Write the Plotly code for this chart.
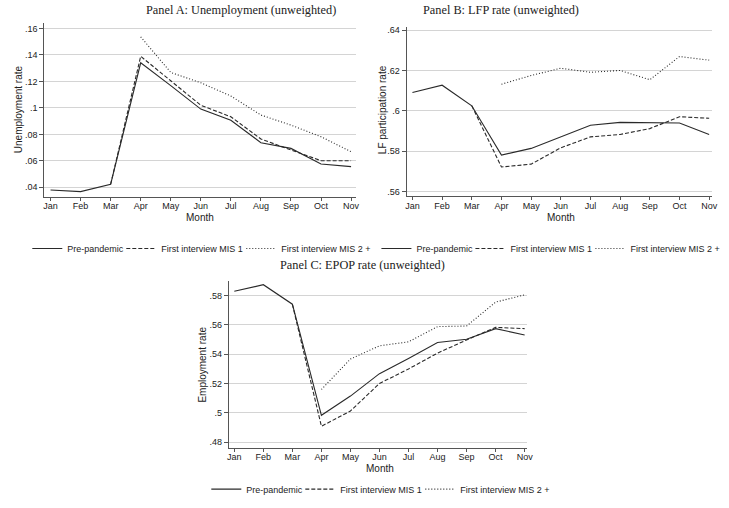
import plotly.graph_objects as go

months = ["Jan", "Feb", "Mar", "Apr", "May", "Jun", "Jul", "Aug", "Sep", "Oct", "Nov"]
series_names = ["Pre-pandemic", "First interview MIS 1", "First interview MIS 2 +"]

# Panel A: Unemployment rate
pre_a = [0.0380, 0.0367, 0.0423, 0.1341, 0.1168, 0.0991, 0.0906, 0.0737, 0.0694, 0.0576, 0.0556]
mis1_a = [None, None, 0.0423, 0.1390, 0.1205, 0.1020, 0.0933, 0.0765, 0.0682, 0.0601, 0.0601]
mis2_a = [None, None, None, 0.1537, 0.1268, 0.1190, 0.1090, 0.0946, 0.0870, 0.0782, 0.0669]

# Panel B: LFP rate
pre_b = [0.6091, 0.6127, 0.6025, 0.5781, 0.5814, 0.5871, 0.5929, 0.5943, 0.5940, 0.5940, 0.5883]
mis1_b = [None, None, 0.6025, 0.5722, 0.5736, 0.5817, 0.5871, 0.5883, 0.5912, 0.5971, 0.5963]
mis2_b = [None, None, None, 0.6132, 0.6175, 0.6211, 0.6191, 0.6200, 0.6154, 0.6269, 0.6251]

# Panel C: EPOP rate
pre_c = [0.5829, 0.5874, 0.5741, 0.4983, 0.5114, 0.5267, 0.5371, 0.5480, 0.5502, 0.5574, 0.5531]
mis1_c = [None, None, 0.5740, 0.4908, 0.5012, 0.5200, 0.5299, 0.5407, 0.5497, 0.5583, 0.5574]
mis2_c = [None, None, None, 0.5159, 0.5367, 0.5457, 0.5484, 0.5588, 0.5592, 0.5755, 0.5805]

ticks_a = [0.04, 0.06, 0.08, 0.10, 0.12, 0.14, 0.16]
ticktext_a = [".04", ".06", ".08", ".1", ".12", ".14", ".16"]
ticks_b = [0.56, 0.58, 0.60, 0.62, 0.64]
ticktext_b = [".56", ".58", ".6", ".62", ".64"]
ticks_c = [0.48, 0.50, 0.52, 0.54, 0.56, 0.58]
ticktext_c = [".48", ".5", ".52", ".54", ".56", ".58"]

W, H = 729, 508
LINE = "#2a2a2a"
SANS = "Liberation Sans, Arial, sans-serif"
SERIF = "Liberation Serif, Times New Roman, serif"

dashes = ["solid", "4px,2px", "1px,2px"]
legend_widths = [49, 75, 88]

fig = go.Figure()

panels = [
    ("x", "y", "legend", [pre_a, mis1_a, mis2_a]),
    ("x2", "y2", "legend2", [pre_b, mis1_b, mis2_b]),
    ("x3", "y3", "legend3", [pre_c, mis1_c, mis2_c]),
]
for xa, ya, lg, data in panels:
    for name, vals, dash, lw in zip(series_names, data, dashes, legend_widths):
        fig.add_trace(go.Scatter(
            x=months, y=vals, mode="lines", name=name,
            line=dict(color=LINE, width=1.1, dash=dash),
            xaxis=xa, yaxis=ya, legend=lg, showlegend=True, legendwidth=lw,
            connectgaps=False, hoverinfo="skip"))

def px_x(p):
    return p / W

def px_y(p):
    return 1 - p / H

xaxis_common = dict(
    type="category", categoryorder="array", categoryarray=months,
    showgrid=False, zeroline=False, showline=True, linecolor="#555555", linewidth=1,
    ticks="outside", ticklen=3, tickcolor="#555555", tickwidth=1, ticklabelstandoff=-2,
    tickfont=dict(family=SANS, size=9, color="#222222"), fixedrange=True,
)
yaxis_common = dict(
    showgrid=True, gridcolor="#d4d4d4", gridwidth=1, zeroline=False,
    showline=True, linecolor="#555555", linewidth=1,
    ticks="outside", ticklen=4, tickcolor="#555555", tickwidth=1,
    tickfont=dict(family=SANS, size=9, color="#222222"), fixedrange=True,
)

layout_axes = dict(
    xaxis=dict(**xaxis_common, domain=[px_x(42.7), px_x(357.5)], range=[-0.21, 10.15], anchor="y"),
    yaxis=dict(**yaxis_common, domain=[px_y(195.7), px_y(20.7)], range=[0.0330, 0.1645],
               tickvals=ticks_a, ticktext=ticktext_a, anchor="x"),
    xaxis2=dict(**xaxis_common, domain=[px_x(409), px_x(718)], range=[-0.2, 10.1], anchor="y2"),
    yaxis2=dict(**yaxis_common, domain=[px_y(195), px_y(25)], range=[0.5579, 0.6416],
                tickvals=ticks_b, ticktext=ticktext_b, anchor="x2"),
    xaxis3=dict(**xaxis_common, domain=[px_x(229.3), px_x(530.5)], range=[-0.19, 10.07], anchor="y3"),
    yaxis3=dict(**yaxis_common, domain=[px_y(448.3), px_y(280.7)], range=[0.4762, 0.5899],
                tickvals=ticks_c, ticktext=ticktext_c, anchor="x3"),
)

legend_common = dict(
    orientation="h", xanchor="center", yanchor="middle",
    font=dict(family=SANS, size=9, color="#222222"),
    itemwidth=30, bgcolor="rgba(0,0,0,0)", tracegroupgap=0,
    itemclick=False, itemdoubleclick=False,
)

annotations = []
def ann(text, x, y, size, family, angle=0):
    annotations.append(dict(
        text=text, x=px_x(x), y=px_y(y), xref="paper", yref="paper",
        xanchor="center", yanchor="middle", showarrow=False, textangle=angle,
        font=dict(family=family, size=size, color="#222222")))

ann("Panel A: Unemployment (unweighted)", 242, 8, 12.3, SERIF)
ann("Panel B: LFP rate (unweighted)", 505, 8, 12.3, SERIF)
ann("Panel C: EPOP rate (unweighted)", 364.5, 265, 12.3, SERIF)
ann("Unemployment rate", 17, 108, 10, SANS, -90)
ann("LF participation rate", 385, 108, 10, SANS, -90)
ann("Employment rate", 203, 365, 10, SANS, -90)
ann("Month", 200, 217, 10, SANS)
ann("Month", 565, 217, 10, SANS)
ann("Month", 382, 469, 10, SANS)

fig.update_layout(
    width=W, height=H, autosize=False,
    margin=dict(l=0, r=0, t=0, b=0),
    paper_bgcolor="white", plot_bgcolor="white",
    showlegend=True,
    legend=dict(**legend_common, x=px_x(201), y=px_y(248)),
    legend2=dict(**legend_common, x=px_x(554), y=px_y(248)),
    legend3=dict(**legend_common, x=px_x(382), y=px_y(490)),
    annotations=annotations,
    **layout_axes,
)

fig.write_html(
    "out.html",
    config={"responsive": False, "displayModeBar": False},
    post_script="document.body.style.margin='0';document.body.style.overflow='hidden';",
)
